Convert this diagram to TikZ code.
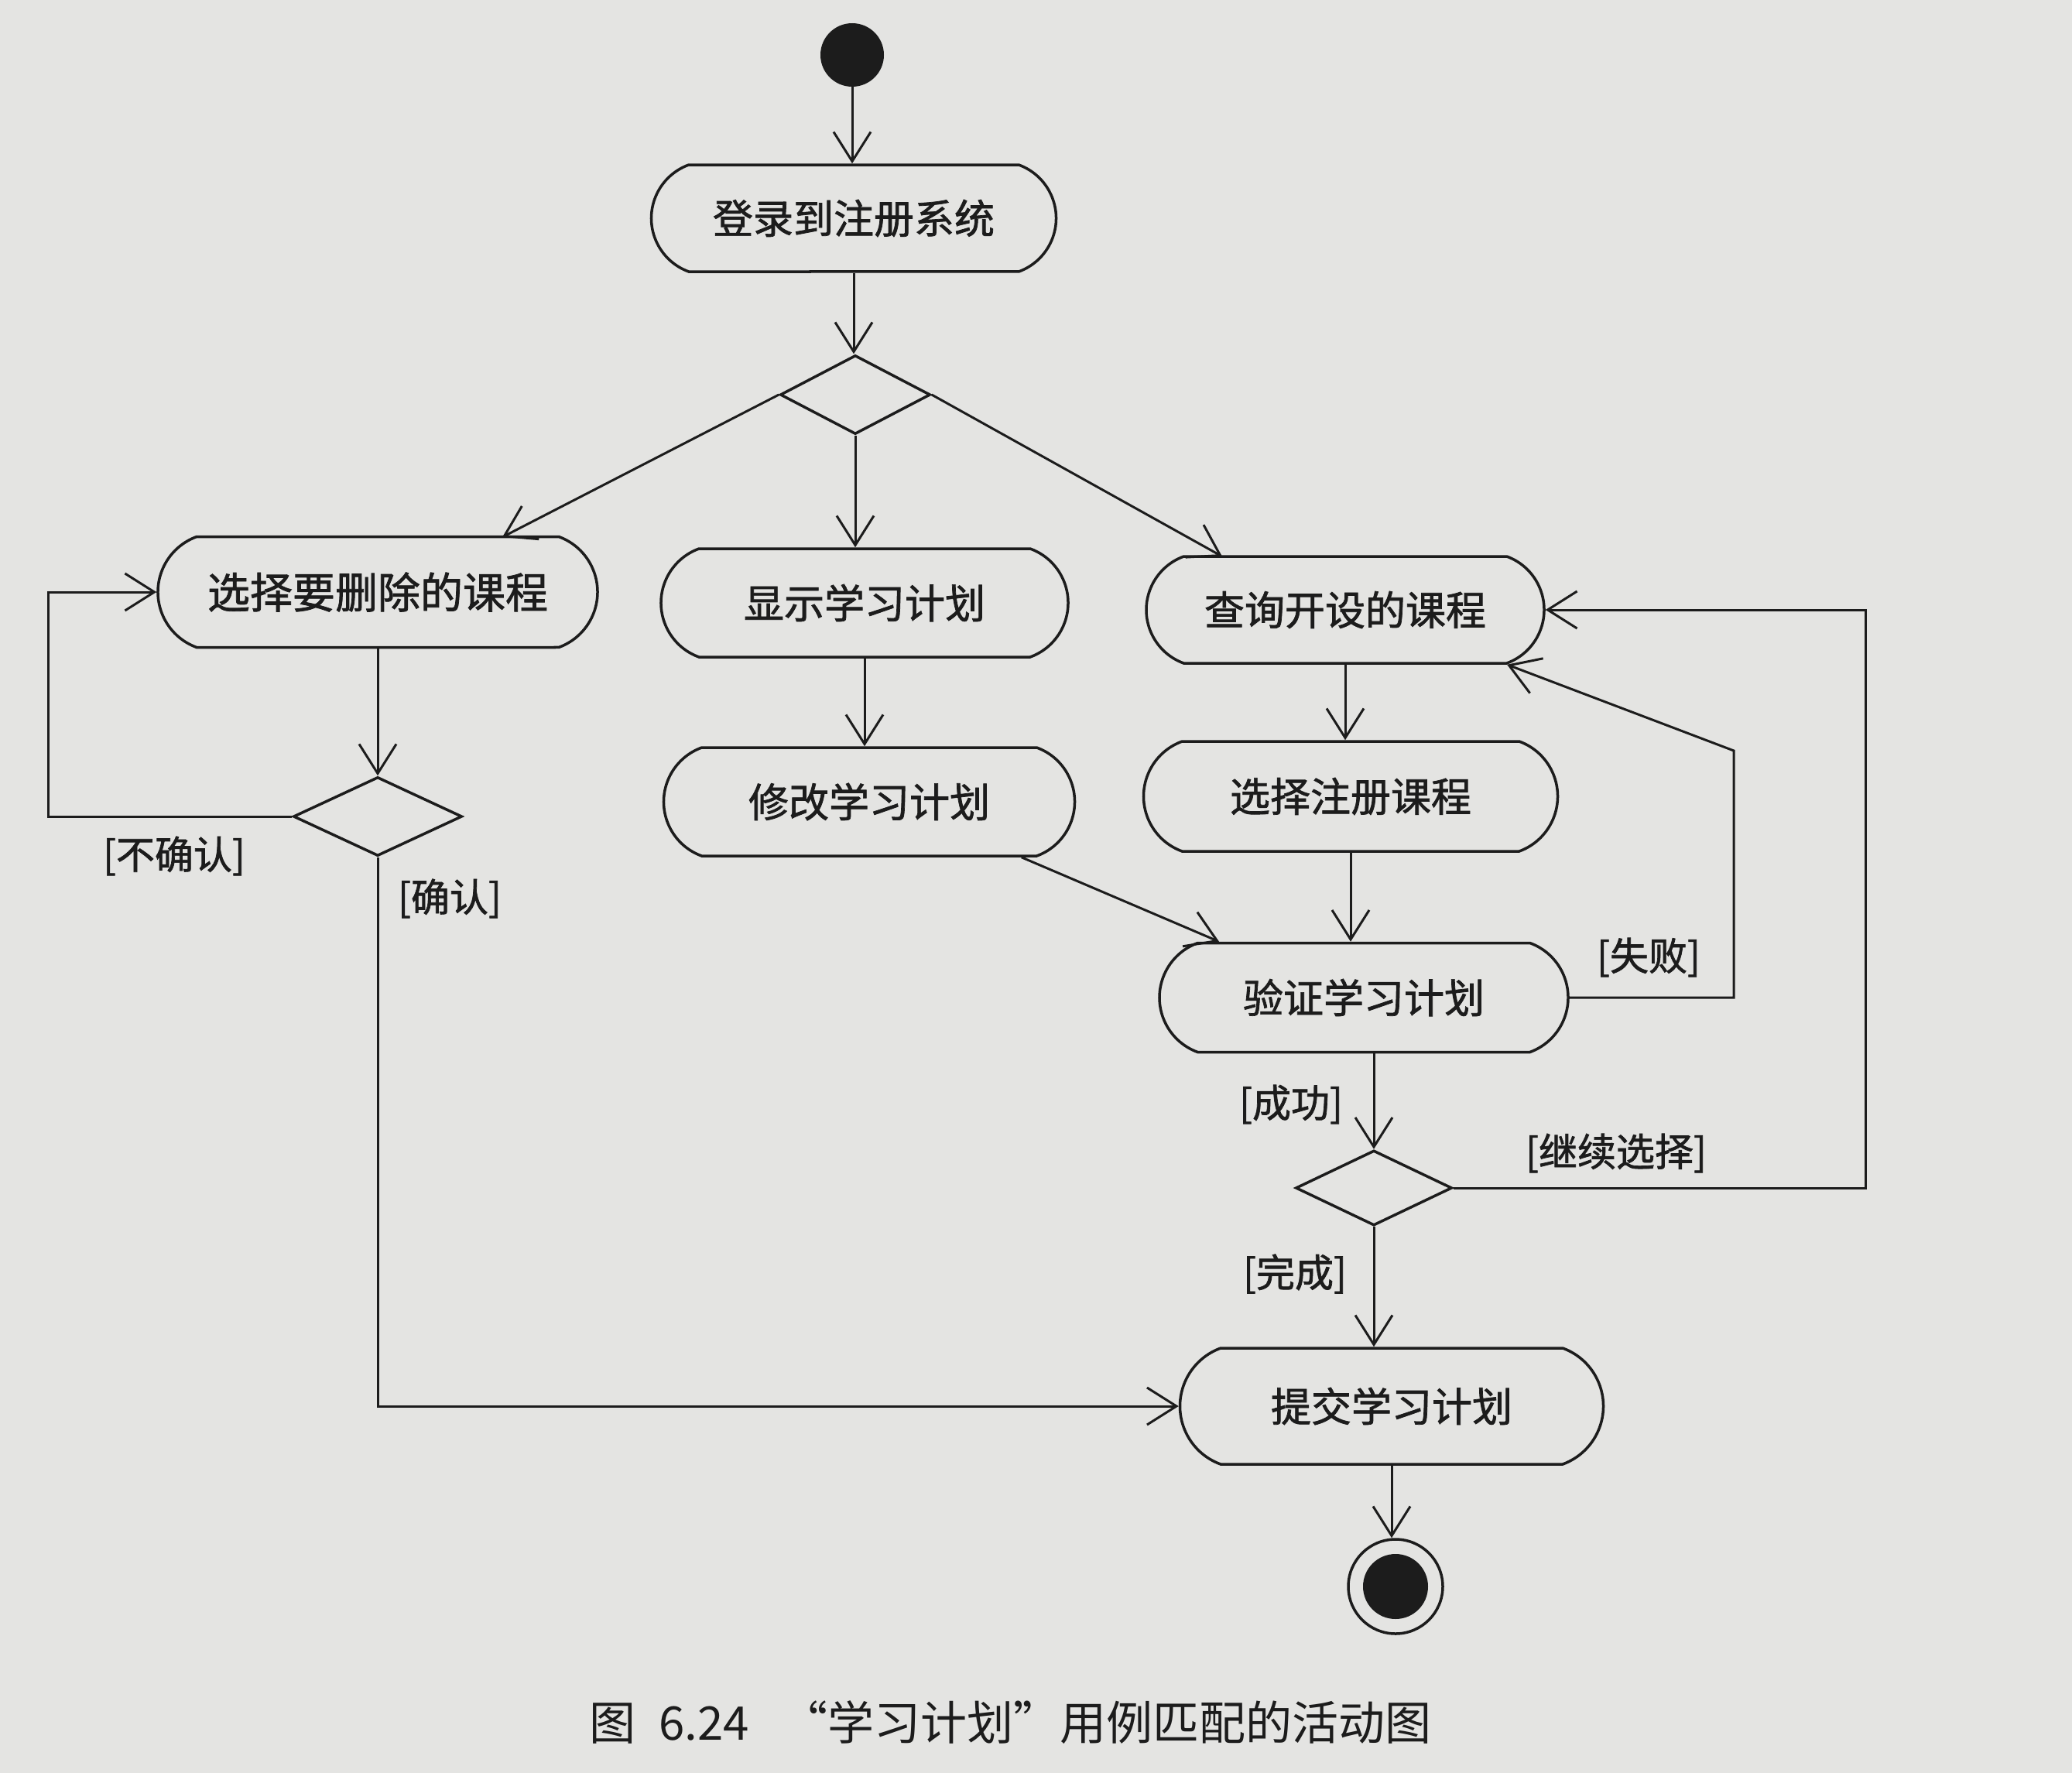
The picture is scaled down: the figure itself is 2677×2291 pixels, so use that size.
\documentclass[tikz,border=0pt]{standalone}
\usepackage{fontspec}
\newfontfamily\cjk{Noto Sans CJK SC}
\newfontfamily\cjkb{Noto Sans CJK SC}[FakeBold=1.4]
\usetikzlibrary{shapes.misc,shapes.geometric,arrows.meta,calc}
\definecolor{paper}{RGB}{228,228,226}
\definecolor{ink}{RGB}{28,28,28}
\begin{document}
\begin{tikzpicture}[x=1pt,y=-1pt,
  act/.style={rounded rectangle, rounded rectangle arc length=140, draw=ink, line width=3.5pt,
    minimum height=140pt, inner sep=0pt, text=ink, font=\cjkb\fontsize{52}{60}\selectfont},
  dec/.style={diamond, draw=ink, line width=3.5pt, inner sep=0pt},
  lbl/.style={inner sep=0pt, text=ink, font=\cjkb\fontsize{50}{58}\selectfont},
  arr/.style={draw=ink, line width=3pt, -{Straight Barb[length=38pt,width=48pt]}}]
\path[fill=paper] (0,0) rectangle (2677,2291);

% nodes
\node[circle, fill=ink, minimum size=82pt, inner sep=0pt] (start) at (1101,71) {};
\node[act, minimum width=523pt, minimum height=138pt] (login) at (1103,282) {登录到注册系统};
\node[dec, minimum width=194pt, minimum height=102pt] (d1) at (1105,510) {};
\node[act, minimum width=568pt, minimum height=143pt, font=\cjkb\fontsize{55}{62}\selectfont] (del) at (488,765) {选择要删除的课程};
\node[act, minimum width=526pt] (show) at (1117,779) {显示学习计划};
\node[act, minimum width=514pt, minimum height=138pt] (query) at (1738,788) {查询开设的课程};
\node[dec, minimum width=218pt, minimum height=102pt] (d2) at (488,1055) {};
\node[act, minimum width=531pt] (modify) at (1123,1036) {修改学习计划};
\node[act, minimum width=535pt, minimum height=142pt] (select) at (1745,1029) {选择注册课程};
\node[act, minimum width=528pt, minimum height=141pt] (verify) at (1762,1289) {验证学习计划};
\node[dec, minimum width=202pt, minimum height=97pt] (d3) at (1775,1535) {};
\node[act, minimum width=547pt, minimum height=150pt] (submit) at (1798,1817) {提交学习计划};
\node[circle, draw=ink, line width=3.5pt, minimum size=122pt, inner sep=0pt] (end) at (1803,2050) {};
\node[circle, fill=ink, minimum size=84pt, inner sep=0pt] (endin) at (end) {};

% guard labels
\node[lbl] (nok) at (225,1106) {[不确认]};
\node[lbl] (ok) at (581,1161) {[确认]};
\node[lbl] (fail) at (2130,1237) {[失败]};
\node[lbl] (succ) at (1668,1427) {[成功]};
\node[lbl] (cont) at (2088,1490) {[继续选择]};
\node[lbl] (done) at (1673,1646) {[完成]};

% helper coordinates
\coordinate (delin) at (649,694);
\coordinate (qin) at (1579,719);
\coordinate (failc) at (2240,970);
\coordinate (contc) at (2410,1535);

% connectors
\draw[arr] (start.south) -- (start.south |- login.north);
\draw[arr] (login.south) -- (login.south |- d1.north);
\draw[arr] (d1.west) -- (delin);
\draw[arr] (d1.south) -- (d1.south |- show.north);
\draw[arr] (d1.east) -- (qin);
\draw[arr] (del.south) -- (del.south |- d2.north);
\draw[arr] (d2.west) -- ++(-315,0) |- (del.west);
\draw[arr] (d2.south) |- (submit.west);
\draw[arr] (show.south) -- (show.south |- modify.north);
\draw[arr] ([xshift=-20pt]modify.south east) -- ([xshift=28pt]verify.north west);
\draw[arr] (query.south) -- (query.south |- select.north);
\draw[arr] (select.south) -- (select.south |- verify.north);
\draw[arr] (verify.east) -| (failc) -- (query.south east);
\draw[arr] (d3.north |- verify.south) -- (d3.north);
\draw[arr] (d3.east) -- (contc) |- (query.east);
\draw[arr] (d3.south) -- (d3.south |- submit.north);
\draw[arr] (submit.south) -- (submit.south |- end.north);

% caption
\node[anchor=west, inner sep=0pt, text=ink, font=\cjk\fontsize{60}{66}\selectfont] (cap) at (761,2226)
  {图\hspace{30pt}6.24\hspace{42pt}“学习计划”用例匹配的活动图};
\end{tikzpicture}
\end{document}
